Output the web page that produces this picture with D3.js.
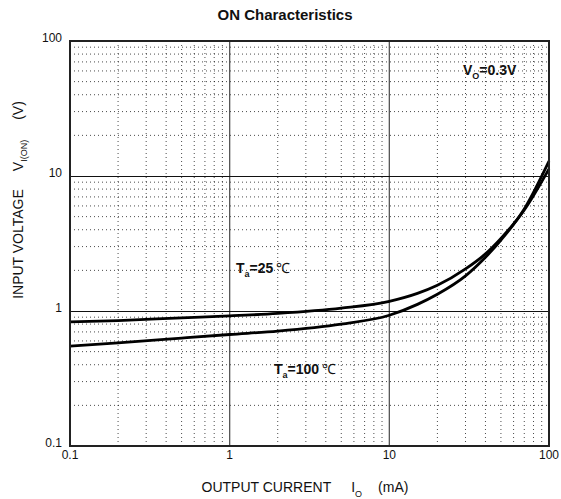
<!DOCTYPE html>
<html>
<head>
<meta charset="utf-8">
<script src="https://cdn.jsdelivr.net/npm/d3@7"></script>
<style>
  body { margin: 0; background: #fff; }
  text { font-family: "Liberation Sans", Arial, sans-serif; fill: #111; }
</style>
</head>
<body>
<script>
// output current (mA) at which the curves were read
const current = [0.1, 0.2, 0.5, 1, 2, 5, 10, 15, 20, 30, 40, 50, 70, 100];
// input voltage (V)
const v25 = [0.83, 0.85, 0.89, 0.92, 0.96, 1.05, 1.18, 1.35, 1.55, 2.05, 2.65, 3.45, 5.6, 11.3];
const v100 = [0.55, 0.58, 0.63, 0.67, 0.71, 0.8, 0.93, 1.12, 1.33, 1.82, 2.5, 3.35, 5.7, 12.9];
const xTicks = [0.1, 1, 10, 100];
const yTicks = [0.1, 1, 10, 100];

const width = 561, height = 499;
const plotL = 70, plotR = 549, plotT = 41, plotB = 446;

const svg = d3.select("body").append("svg")
  .attr("width", width).attr("height", height);

const x = d3.scaleLog().domain([0.1, 100]).range([plotL, plotR]);
const y = d3.scaleLog().domain([0.1, 100]).range([plotB, plotT]);

// minor values 2..9 per decade
const minor = [];
[0.1, 1, 10].forEach(d => { for (let k = 2; k <= 9; k++) minor.push(d * k); });

// dotted minor grid
svg.append("g").selectAll("line").data(minor).join("line")
  .attr("x1", d => x(d)).attr("x2", d => x(d))
  .attr("y1", plotT).attr("y2", plotB)
  .attr("stroke", "#000").attr("stroke-width", 1)
  .attr("stroke-dasharray", "1 3").attr("opacity", 0.7);
svg.append("g").selectAll("line").data(minor).join("line")
  .attr("y1", d => y(d)).attr("y2", d => y(d))
  .attr("x1", plotL).attr("x2", plotR)
  .attr("stroke", "#000").attr("stroke-width", 1)
  .attr("stroke-dasharray", "1 3").attr("opacity", 0.7);

// major grid
svg.append("g").selectAll("line").data([1, 10]).join("line")
  .attr("x1", d => x(d)).attr("x2", d => x(d))
  .attr("y1", plotT).attr("y2", plotB)
  .attr("stroke", "#555").attr("stroke-width", 1.3);
svg.append("g").selectAll("line").data([1, 10]).join("line")
  .attr("y1", d => Math.round(y(d)) + 0.5).attr("y2", d => Math.round(y(d)) + 0.5)
  .attr("x1", plotL).attr("x2", plotR)
  .attr("stroke", "#111").attr("stroke-width", 1.2);

// curves
const line = d3.line()
  .x(d => x(d[0])).y(d => y(d[1]))
  .curve(d3.curveMonotoneX);

[v25, v100].forEach(v => {
  svg.append("path")
    .datum(current.map((c, i) => [c, v[i]]))
    .attr("fill", "none")
    .attr("stroke", "#000")
    .attr("stroke-width", 2.8)
    .attr("d", line);
});

// frame
svg.append("rect")
  .attr("x", plotL).attr("y", plotT)
  .attr("width", plotR - plotL).attr("height", plotB - plotT)
  .attr("fill", "none").attr("stroke", "#222").attr("stroke-width", 2);

// tick labels
svg.append("g").selectAll("text").data(xTicks).join("text")
  .attr("x", d => x(d)).attr("y", plotB + 13)
  .attr("text-anchor", "middle")
  .style("font-size", "12px")
  .text(d => d);
svg.append("g").selectAll("text").data(yTicks).join("text")
  .attr("x", plotL - 8).attr("y", d => y(d) + 1)
  .attr("text-anchor", "end")
  .style("font-size", "12px")
  .text(d => d);

// title
svg.append("text")
  .attr("x", 285).attr("y", 20)
  .attr("text-anchor", "middle")
  .style("font-size", "15px").style("font-weight", "bold")
  .text("ON Characteristics");

// x title
const xt = svg.append("text")
  .attr("x", 305).attr("y", 492)
  .attr("text-anchor", "middle")
  .style("font-size", "14px");
xt.append("tspan").text("OUTPUT CURRENT");
xt.append("tspan").attr("dx", 20).text("I");
xt.append("tspan").attr("dy", 5).style("font-size", "9px").text("O");
xt.append("tspan").attr("dy", -5).attr("dx", 16).text("(mA)");

// y title
const yt = svg.append("text")
  .attr("transform", "translate(23,200) rotate(-90)")
  .attr("text-anchor", "middle")
  .style("font-size", "14px");
yt.append("tspan").text("INPUT VOLTAGE");
yt.append("tspan").attr("dx", 18).text("V");
yt.append("tspan").attr("dy", 4).style("font-size", "9px").text("I(ON)");
yt.append("tspan").attr("dy", -4).attr("dx", 20).text("(V)");

// annotations
function label(px, py, main, sub, rest, unit) {
  const t = svg.append("text").attr("x", px).attr("y", py)
    .style("font-size", "14px").style("font-weight", "bold");
  t.append("tspan").text(main);
  t.append("tspan").attr("dy", 4).style("font-size", "9px").text(sub);
  t.append("tspan").attr("dy", -4).text(rest);
  if (unit) t.append("tspan").style("font-weight", "normal").attr("dx", 3).text(unit);
}
label(463, 75, "V", "O", "=0.3V");
label(236, 273, "T", "a", "=25", "℃");
label(274, 374, "T", "a", "=100", "℃");
</script>
</body>
</html>
